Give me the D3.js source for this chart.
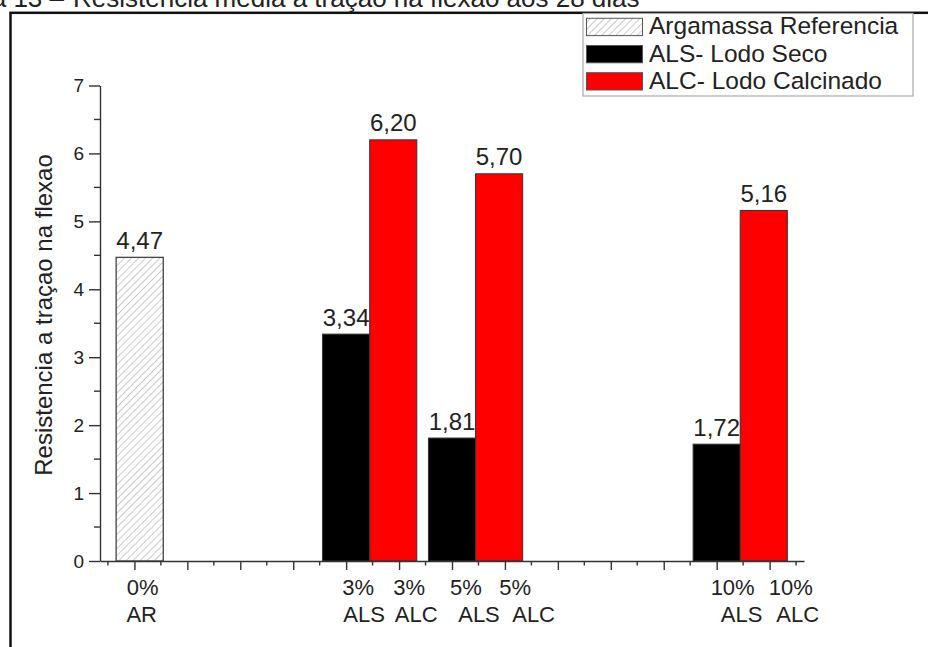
<!DOCTYPE html>
<html>
<head>
<meta charset="utf-8">
<script src="https://cdn.jsdelivr.net/npm/d3@7/dist/d3.min.js"></script>
<style>
  html, body { margin: 0; padding: 0; background: #fff; }
  svg { display: block; }
  text { font-family: "Liberation Sans", Arial, sans-serif; fill: #222; }
</style>
</head>
<body>
<svg id="chart" width="928" height="647"></svg>
<script>
// ---- data ----
const captionLead = "a 13 –";
const captionText = "Resistência média à tração na flexão aos 28 dias";
const yTitle = "Resistencia a traçao na flexao";
const seriesNames = ["Argamassa Referencia", "ALS- Lodo Seco", "ALC- Lodo Calcinado"];
const refCategory = "0%";
const refValue = 4.47;
const groups = ["3%", "5%", "10%"];
const alsValues = [3.34, 1.81, 1.72];
const alcValues = [6.20, 5.70, 5.16];
const yTickValues = [0, 1, 2, 3, 4, 5, 6, 7];
const xTickLabels = [["0%", "AR"], ["3%", "ALS"], ["3%", "ALC"], ["5%", "ALS"], ["5%", "ALC"], ["10%", "ALS"], ["10%", "ALC"]];

// ---- layout ----
const svg = d3.select("#chart");
const x = d3.scaleLinear().domain([-0.65, 12.65]).range([100, 804]);
const y = d3.scaleLinear().domain([0, 7]).range([561, 85.5]);
const barW = 0.89;                       // bar width in axis units
const refPos = 0.1;                      // axis position of the reference bar
const groupPos = [4, 6, 11];             // axis position of each ALS bar
const colors = { ref: "url(#hatch)", als: "#000000", alc: "#ff0000" };
const axisColor = "#333";
const comma = d3.formatLocale({ decimal: ",", thousands: ".", grouping: [3], currency: ["", ""] }).format(".2f");

// hatch pattern for the reference mortar
const defs = svg.append("defs");
const pat = defs.append("pattern")
  .attr("id", "hatch").attr("patternUnits", "userSpaceOnUse")
  .attr("width", 5).attr("height", 5)
  .attr("patternTransform", "rotate(45)");
pat.append("rect").attr("width", 5).attr("height", 5).attr("fill", "#fff");
pat.append("line").attr("x1", 0).attr("y1", 0).attr("x2", 0).attr("y2", 5)
  .attr("stroke", "#9a9a9a").attr("stroke-width", 1);

// caption (top, partly cut by the page edge)
const cap = svg.append("text").attr("y", 7).style("font-size", "26px");
cap.append("tspan").attr("x", 64).attr("text-anchor", "end").text(captionLead);
cap.append("tspan").attr("x", 73).attr("text-anchor", "start").text(captionText);

// outer frame
svg.append("rect").attr("x", 10.5).attr("y", 12.8).attr("width", 1000).attr("height", 1000)
  .attr("fill", "none").attr("stroke", "#111").attr("stroke-width", 2.5);

// bar records
const bars = [{ key: "ref", pos: refPos, value: refValue, cat: refCategory }];
groups.forEach((g, i) => {
  bars.push({ key: "als", pos: groupPos[i], value: alsValues[i], cat: g });
  bars.push({ key: "alc", pos: groupPos[i] + barW, value: alcValues[i], cat: g });
});

const plot = svg.append("g");
plot.selectAll("rect.bar").data(bars).join("rect")
  .attr("class", "bar")
  .attr("x", d => x(d.pos - barW / 2))
  .attr("width", d => x(d.pos + barW / 2) - x(d.pos - barW / 2))
  .attr("y", d => y(d.value))
  .attr("height", d => y(0) - y(d.value))
  .attr("fill", d => colors[d.key])
  .attr("stroke", d => d.key === "ref" ? "#444" : "#333")
  .attr("stroke-width", d => d.key === "ref" ? 1.3 : 1);

plot.selectAll("text.val").data(bars).join("text")
  .attr("class", "val")
  .attr("x", d => x(d.pos))
  .attr("y", d => y(d.value) - 8.5)
  .attr("text-anchor", "middle")
  .style("font-size", "24px")
  .text(d => comma(d.value));

// y axis with minor ticks
const yAxis = svg.append("g").attr("transform", `translate(${x.range()[0]},0)`)
  .call(d3.axisLeft(y).tickValues(yTickValues).tickFormat(d3.format("d"))
    .tickSize(11).tickSizeOuter(0).tickPadding(5));
yAxis.selectAll("text").style("font-size", "19px").style("fill", "#222");
yAxis.append("g").selectAll("line").data(d3.range(0.5, 7, 1)).join("line")
  .attr("x1", -6).attr("x2", 0).attr("y1", d => y(d)).attr("y2", d => y(d));

// x axis with minor ticks, no numeric labels
const xAxis = svg.append("g").attr("transform", `translate(0,${y(0)})`)
  .call(d3.axisBottom(x).tickValues(d3.range(0, 13)).tickSize(9).tickSizeOuter(0).tickFormat(""));
xAxis.append("g").selectAll("line").data(d3.range(-0.5, 13, 1)).join("line")
  .attr("x1", d => x(d)).attr("x2", d => x(d)).attr("y1", 0).attr("y2", 4.5);

[yAxis, xAxis].forEach(a => {
  a.selectAll("path, line").attr("stroke", axisColor).attr("stroke-width", 1.4);
});

// category labels under the axis, two lines each
const labelDx = [[3, 2], [12, 18], [16, 23], [14, 27], [16, 34.5], [16, 25], [27, 34]];
const xl = svg.append("g");
xTickLabels.forEach((lines, i) => {
  const cx = x(bars[i].pos);
  lines.forEach((t, j) => {
    xl.append("text")
      .attr("x", cx + labelDx[i][j])
      .attr("y", j === 0 ? 595 : 621.5)
      .attr("text-anchor", "middle")
      .style("font-size", "22px")
      .text(t);
  });
});

// y axis title
svg.append("text")
  .attr("transform", "translate(52,315) rotate(-90)")
  .attr("text-anchor", "middle")
  .style("font-size", "24px")
  .text(yTitle);

// legend
const lg = svg.append("g");
lg.append("rect").attr("x", 583).attr("y", 13.5).attr("width", 330).attr("height", 82.5)
  .attr("fill", "#fff").attr("stroke", "#aaa").attr("stroke-width", 1.2);
const legendKeys = ["ref", "als", "alc"];
seriesNames.forEach((name, i) => {
  const top = 18.3 + i * 27.2;
  lg.append("rect").attr("x", 586.5).attr("y", top).attr("width", 56).attr("height", 17.3)
    .attr("fill", colors[legendKeys[i]]).attr("stroke", "#555").attr("stroke-width", 1);
  lg.append("text").attr("x", 649).attr("y", top + 16).style("font-size", "24.5px").text(name);
});
</script>
</body>
</html>
